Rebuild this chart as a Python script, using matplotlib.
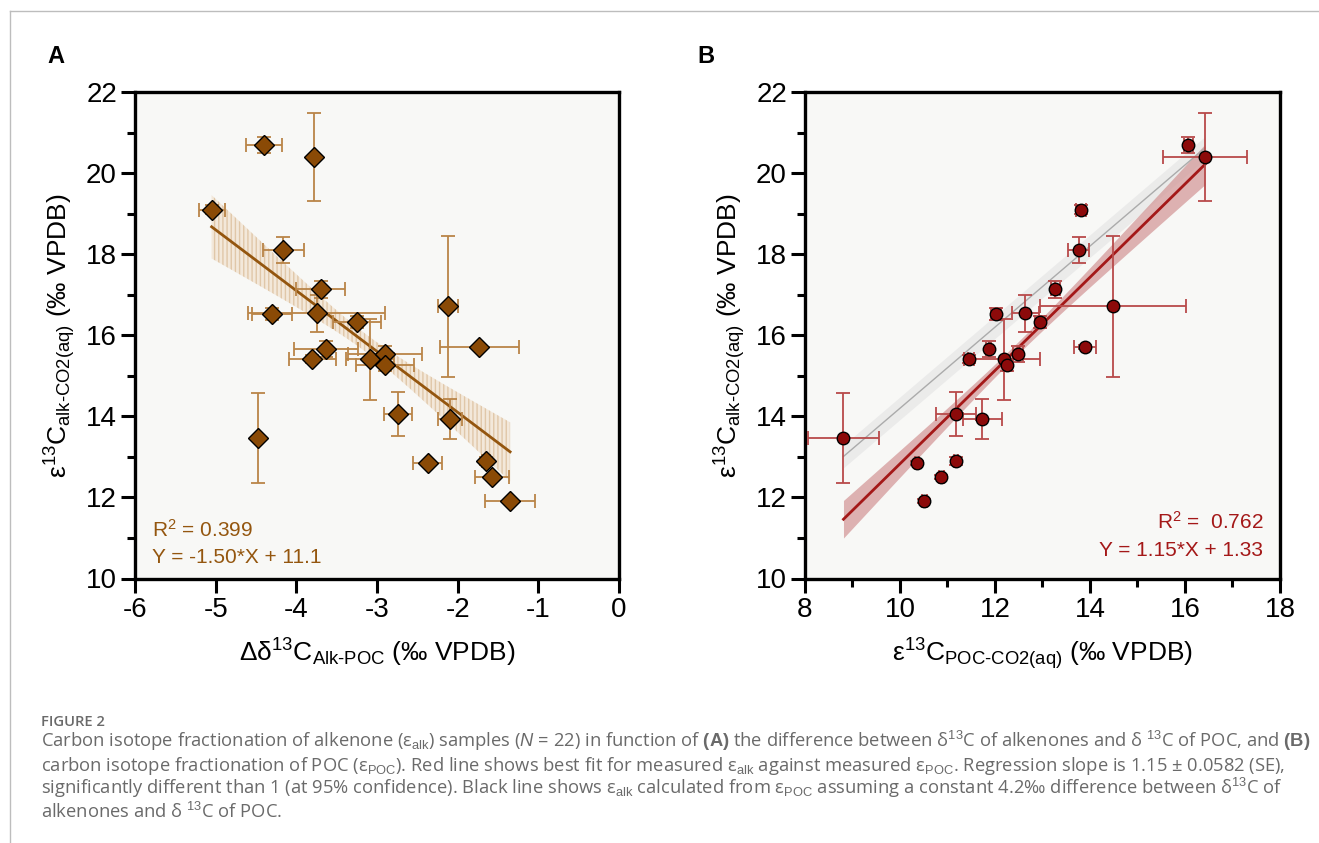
import numpy as np
import matplotlib
matplotlib.use("Agg")
import matplotlib.pyplot as plt
from matplotlib.lines import Line2D

plt.rcParams['font.family'] = ['Liberation Sans', 'DejaVu Sans']
plt.rcParams['mathtext.fontset'] = 'custom'
plt.rcParams['mathtext.rm'] = 'Liberation Sans'
plt.rcParams['mathtext.it'] = 'Liberation Sans:italic'
plt.rcParams['mathtext.bf'] = 'Liberation Sans:bold'
plt.rcParams['hatch.linewidth'] = 1.0

# --- data (N = 22) ---
eps_alk = [20.70, 20.39, 19.10, 18.10, 17.13, 16.71, 16.52, 16.54, 16.33, 15.70, 15.67,
           15.42, 15.41, 15.53, 15.27, 14.05, 13.93, 13.46, 12.84, 12.90, 12.51, 11.92]
eps_alk_err = [0.2, 1.08, 0.12, 0.32, 0.2, 1.75, 0.15, 0.45, 0.15, 0.05, 0.2,
               0.1, 1.0, 0.2, 0.15, 0.54, 0.49, 1.11, 0.05, 0.1, 0.05, 0.05]
d13c_diff = [-4.40, -3.78, -5.05, -4.16, -3.70, -2.12, -4.30, -3.75, -3.25, -1.73, -3.63,
             -3.80, -3.09, -2.90, -2.90, -2.74, -2.10, -4.48, -2.37, -1.65, -1.57, -1.35]
d13c_diff_err = [0.22, 0.0, 0.16, 0.25, 0.30, 0.12, 0.25, 0.85, 0.30, 0.49, 0.40,
                 0.29, 0.30, 0.46, 0.36, 0.17, 0.15, 0.0, 0.18, 0.05, 0.21, 0.31]
eps_poc = [16.07, 16.42, 13.81, 13.76, 13.27, 14.48, 12.02, 12.64, 12.95, 13.90, 11.87,
           11.45, 12.19, 12.48, 12.26, 11.18, 11.73, 8.81, 10.36, 11.18, 10.87, 10.51]
eps_poc_err = [0.1, 0.88, 0.1, 0.22, 0.1, 1.54, 0.1, 0.28, 0.1, 0.23, 0.05,
               0.1, 0.75, 0.1, 0.1, 0.43, 0.41, 0.74, 0.05, 0.05, 0.05, 0.05]

# regression results printed on the panels
fitA = (-1.50, 11.1)
fitB = (1.15, 1.33)
r2A, r2B = 0.399, 0.762
offset_const = 4.2          # constant alk - POC difference (black line)
# half-widths of the shaded bands (centre, growth per unit x)
bandA = (0.22, 0.39)
bandB = (0.15, 0.12)
band_const = 0.28

col_A_mark = '#8a4a06'
col_A_err = '#b98447'
col_A_line = '#94560f'
col_B_mark = '#8c0a0a'
col_B_err = '#b84a4a'
col_B_line = '#a41818'


def style_axes(ax):
    ax.set_facecolor('#f8f8f6')
    for s in ax.spines.values():
        s.set_linewidth(2.4)
    ax.tick_params(which='major', length=10, width=2.2, labelsize=20, pad=3)
    ax.tick_params(which='minor', length=6, width=2.2)
    ax.set_ylim(10, 22)
    ax.set_yticks(np.arange(10, 23, 2))
    ax.set_yticks(np.arange(11, 22, 2), minor=True)
    ax.set_ylabel('ε$^{13}$C$_{\\rm alk‐CO2(aq)}$ (‰ VPDB)', fontsize=19, labelpad=6)


fig = plt.figure(figsize=(13.19, 8.43), dpi=100)

# ---------------- panel A ----------------
axA = fig.add_axes([135 / 1319, 1 - 578.5 / 843, 484 / 1319, 486.5 / 843])
style_axes(axA)
xa = np.array(d13c_diff)
ya = np.array(eps_alk)
xs = np.linspace(xa.min(), xa.max(), 200)
line = fitA[0] * xs + fitA[1]
half = np.sqrt(bandA[0] ** 2 + (bandA[1] * (xs - xa.mean())) ** 2)
axA.fill_between(xs, line - half, line + half, facecolor='#f3e8da', edgecolor='#e0c7a8',
                 hatch='||||', lw=0, zorder=1)
axA.plot(xs, line, color=col_A_line, lw=2, zorder=2)
axA.errorbar(xa, ya, xerr=d13c_diff_err, yerr=eps_alk_err, fmt='none', ecolor=col_A_err,
             elinewidth=1.3, capsize=5, capthick=1.3, zorder=3)
axA.plot(xa, ya, 'D', ms=10.5, mfc=col_A_mark, mec='black', mew=1.0, zorder=4)
axA.set_xlim(-6, 0)
axA.set_xticks(np.arange(-6, 1, 1))
axA.set_xticklabels([str(v) for v in range(-6, 1)])
axA.set_xlabel('Δδ$^{13}$C$_{\\rm Alk‐POC}$ (‰ VPDB)', fontsize=19, labelpad=10)
axA.text(0.035, 0.10, 'R$^2$ = %.3f' % r2A, transform=axA.transAxes, fontsize=15,
         color=col_A_line, va='center')
axA.text(0.035, 0.044, 'Y = %.2f*X + %.1f' % fitA, transform=axA.transAxes, fontsize=15,
         color=col_A_line, va='center')

# ---------------- panel B ----------------
axB = fig.add_axes([805 / 1319, 1 - 578.5 / 843, 475 / 1319, 486.5 / 843])
style_axes(axB)
xb = np.array(eps_poc)
xs = np.linspace(xb.min(), xb.max(), 200)
gline = xs + offset_const
axB.fill_between(xs, gline - band_const, gline + band_const, color='#e8e8e8', lw=0,
                 alpha=0.8, zorder=1)
axB.plot(xs, gline, color='#ababab', lw=1.0, zorder=2)
line = fitB[0] * xs + fitB[1]
half = np.sqrt(bandB[0] ** 2 + (bandB[1] * (xs - xb.mean())) ** 2)
axB.fill_between(xs, line - half, line + half, color='#d49a9a', lw=0, alpha=0.75, zorder=1)
axB.plot(xs, line, color=col_B_line, lw=2, zorder=2)
axB.errorbar(xb, ya, xerr=eps_poc_err, yerr=eps_alk_err, fmt='none', ecolor=col_B_err,
             elinewidth=1.3, capsize=5, capthick=1.3, zorder=3)
axB.plot(xb, ya, 'o', ms=9, mfc=col_B_mark, mec='black', mew=1.0, zorder=4)
axB.set_xlim(8, 18)
axB.set_xticks(np.arange(8, 19, 2))
axB.set_xticks(np.arange(9, 18, 2), minor=True)
axB.set_xlabel('ε$^{13}$C$_{\\rm POC‐CO2(aq)}$ (‰ VPDB)', fontsize=19, labelpad=10)
axB.text(0.965, 0.116, 'R$^2$ =  %.3f' % r2B, transform=axB.transAxes, fontsize=15,
         color=col_B_line, ha='right', va='center')
axB.text(0.965, 0.058, 'Y = %.2f*X + %.2f' % fitB, transform=axB.transAxes, fontsize=15,
         color=col_B_line, ha='right', va='center')

# panel letters
fig.text(47 / 1319, 1 - 63 / 843, 'A', fontsize=17, fontweight='bold')
fig.text(697 / 1319, 1 - 63 / 843, 'B', fontsize=17, fontweight='bold')

# frame lines of the page
fig.add_artist(Line2D([10 / 1319, 10 / 1319], [0, 1 - 11 / 843], transform=fig.transFigure,
                      color='#bdbdbd', lw=1))
fig.add_artist(Line2D([10 / 1319, 1], [1 - 11 / 843, 1 - 11 / 843], transform=fig.transFigure,
                      color='#bdbdbd', lw=1))

# caption
cap_col = '#6a6a6a'
cap_font = ['Open Sans', 'DejaVu Sans']
fig.text(41 / 1319, 1 - 726 / 843, 'FIGURE 2', fontsize=10.6, color=cap_col,
         family=cap_font, fontweight='semibold')
caption = [
    'Carbon isotope fractionation of alkenone (ε$_{\\rm alk}$) samples ($N$ = 22) in function of '
    '$\\mathbf{(A)}$ the difference between δ$^{13}$C of alkenones and δ $^{13}$C of POC, and $\\mathbf{(B)}$',
    'carbon isotope fractionation of POC (ε$_{\\rm POC}$). Red line shows best fit for measured '
    'ε$_{\\rm alk}$ against measured ε$_{\\rm POC}$. Regression slope is 1.15 ± 0.0582 (SE),',
    'significantly different than 1 (at 95% confidence). Black line shows ε$_{\\rm alk}$ calculated from '
    'ε$_{\\rm POC}$ assuming a constant 4.2‰ difference between δ$^{13}$C of',
    'alkenones and δ $^{13}$C of POC.',
]
for i, ln in enumerate(caption):
    fig.text(41 / 1319, 1 - (747 + 23.7 * i) / 843, ln, fontsize=13.2, color=cap_col,
             family=cap_font)

fig.savefig('out.png', dpi=100)
